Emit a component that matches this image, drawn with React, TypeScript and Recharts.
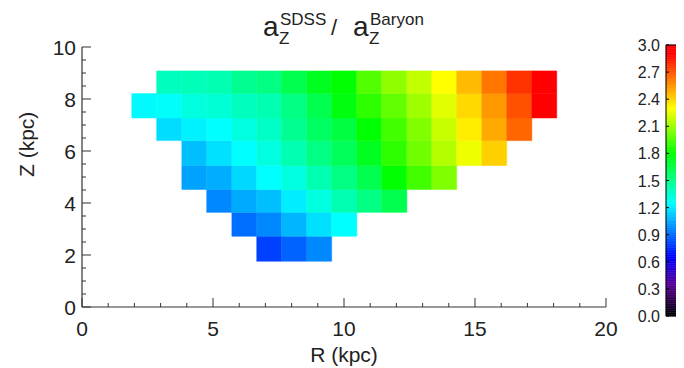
import React from 'react';
import { ComposedChart, XAxis, YAxis, ReferenceArea } from 'recharts';

// bin edges in kpc
const rEdges = [1.9, 2.85, 3.81, 4.76, 5.72, 6.67, 7.62, 8.58, 9.53, 10.49, 11.44, 12.4, 13.35, 14.3, 15.26, 16.21, 17.17, 18.12];
const zEdges = [1.76, 2.72, 3.64, 4.52, 5.44, 6.4, 7.27, 8.21, 9.08];

// first filled R bin of each Z row (bottom row first)
const rowStart = [5, 4, 3, 2, 2, 1, 0, 1];

// a_Z(SDSS) / a_Z(Baryon), one array per Z row, bottom to top
const row0 = [0.8, 0.88, 0.97];
const row1 = [0.91, 0.97, 1.08, 1.18, 1.25];
const row2 = [0.97, 1.05, 1.1, 1.21, 1.32, 1.42, 1.52, 1.63];
const row3 = [1.03, 1.06, 1.16, 1.25, 1.32, 1.42, 1.52, 1.63, 1.8, 1.93, 2.05];
const row4 = [1.1, 1.18, 1.25, 1.32, 1.42, 1.52, 1.61, 1.73, 1.89, 2.02, 2.15, 2.27, 2.41];
const row5 = [1.17, 1.22, 1.25, 1.32, 1.37, 1.49, 1.59, 1.66, 1.8, 1.93, 2.05, 2.19, 2.34, 2.5, 2.66];
const row6 = [1.24, 1.26, 1.32, 1.34, 1.39, 1.42, 1.52, 1.63, 1.77, 1.89, 1.99, 2.11, 2.24, 2.39, 2.54, 2.71, 2.92];
const row7 = [1.39, 1.4, 1.42, 1.49, 1.52, 1.63, 1.73, 1.8, 1.96, 2.08, 2.18, 2.3, 2.46, 2.62, 2.78, 2.92];
const rows = [row0, row1, row2, row3, row4, row5, row6, row7];

// axis ticks
const rTicks = [0, 1, 2, 3, 4, 5, 6, 7, 8, 9, 10, 11, 12, 13, 14, 15, 16, 17, 18, 19, 20];
const rLabels = [0, 5, 10, 15, 20];
const zTicks = [0, 0.5, 1, 1.5, 2, 2.5, 3, 3.5, 4, 4.5, 5, 5.5, 6, 6.5, 7, 7.5, 8, 8.5, 9, 9.5, 10];
const zLabels = [0, 2, 4, 6, 8, 10];
const cbarTicks = [0, 0.3, 0.6, 0.9, 1.2, 1.5, 1.8, 2.1, 2.4, 2.7, 3.0];

// colour table (rainbow)
const cmapValues = [0, 0.35, 0.65, 1.25, 1.8, 2.3, 2.9, 3.0];
const cmapColors = ['#000000', '#5a0096', '#0000ff', '#00ffff', '#00ff00', '#ffff00', '#ff0000', '#ff0000'];

const FONT = '"Liberation Sans", Arial, Helvetica, sans-serif';
const AXIS = '#333';
const TEXT = '#222';

const hex = (c: string) => [1, 3, 5].map(i => parseInt(c.slice(i, i + 2), 16));

function valueColor(v: number) {
  const vv = Math.max(0, Math.min(3, v));
  let i = 0;
  while (i < cmapValues.length - 2 && vv > cmapValues[i + 1]) i++;
  const t = (vv - cmapValues[i]) / (cmapValues[i + 1] - cmapValues[i] || 1);
  const a = hex(cmapColors[i]);
  const b = hex(cmapColors[i + 1]);
  const c = a.map((x, k) => Math.round(x + (b[k] - x) * t));
  return `rgb(${c[0]},${c[1]},${c[2]})`;
}

const cells = rows.flatMap((vals, j) =>
  vals.map((v, k) => ({
    r1: rEdges[rowStart[j] + k],
    r2: rEdges[rowStart[j] + k + 1],
    z1: zEdges[j],
    z2: zEdges[j + 1],
    value: v,
  }))
);

// colour bar drawn as thin slices of the colour table
const CBAR_STEP = 0.02;
const cbarSlices = Array.from({ length: Math.round(3 / CBAR_STEP) }, (_, i) => i * CBAR_STEP);

const BottomTick = (props: any) => {
  const { x, y, payload } = props;
  const major = rLabels.includes(payload.value);
  return (
    <g>
      <line x1={x} x2={x} y1={y} y2={y - (major ? 9 : 4)} stroke={AXIS} />
      {major && (
        <text x={x} y={y + 29} textAnchor="middle" fontSize={21} fontFamily={FONT} fill={TEXT}>
          {payload.value}
        </text>
      )}
    </g>
  );
};

const TopTick = (props: any) => {
  const { x, y, payload } = props;
  const major = rLabels.includes(payload.value);
  return <line x1={x} x2={x} y1={y} y2={y + (major ? 9 : 4)} stroke={AXIS} />;
};

const LeftTick = (props: any) => {
  const { x, y, payload } = props;
  const major = zLabels.includes(payload.value);
  return (
    <g>
      <line x1={x} x2={x + (major ? 9 : 4)} y1={y} y2={y} stroke={AXIS} />
      {major && (
        <text x={x - 6} y={y + 7.5} textAnchor="end" fontSize={21} fontFamily={FONT} fill={TEXT}>
          {payload.value}
        </text>
      )}
    </g>
  );
};

const RightTick = (props: any) => {
  const { x, y, payload } = props;
  const major = zLabels.includes(payload.value);
  return <line x1={x} x2={x - (major ? 9 : 4)} y1={y} y2={y} stroke={AXIS} />;
};

const CbarTick = (props: any) => {
  const { x, y, payload } = props;
  return (
    <g>
      <line x1={x} x2={x + 3} y1={y} y2={y} stroke="#000" />
      <text x={x - 6} y={y + 6} textAnchor="end" fontSize={16} fontFamily={FONT} fill={TEXT}>
        {Number(payload.value).toFixed(1)}
      </text>
    </g>
  );
};

export default function App() {
  return (
    <div style={{ position: 'relative', width: 684, height: 368, margin: '-8px 0 0 -8px', background: '#fff' }}>
      <div style={{ position: 'absolute', left: 0, top: 0 }}>
        <ComposedChart width={684} height={368} margin={{ top: 47, right: 78, bottom: 0, left: 0 }}>
          <XAxis
            type="number"
            dataKey="r"
            domain={[0, 20]}
            ticks={rTicks}
            interval={0}
            height={61}
            tickSize={0}
            tickMargin={0}
            tick={<BottomTick />}
            stroke={AXIS}
            strokeWidth={1.2}
            allowDataOverflow
            label={{ value: 'R (kpc)', position: 'insideBottom', offset: 6, fontSize: 21, fontFamily: FONT, fill: TEXT }}
          />
          <XAxis
            xAxisId="top"
            orientation="top"
            type="number"
            domain={[0, 20]}
            ticks={rTicks}
            interval={0}
            height={0}
            tickSize={0}
            tickMargin={0}
            tick={<TopTick />}
            stroke={AXIS}
            strokeWidth={1.2}
            allowDataOverflow
          />
          <YAxis
            type="number"
            dataKey="z"
            domain={[0, 10]}
            ticks={zTicks}
            interval={0}
            width={82}
            tickSize={0}
            tickMargin={0}
            tick={<LeftTick />}
            stroke={AXIS}
            strokeWidth={1.2}
            allowDataOverflow
            label={{ value: 'Z (kpc)', angle: -90, position: 'insideLeft', offset: 27, fontSize: 21, fontFamily: FONT, fill: TEXT }}
          />
          <YAxis
            yAxisId="right"
            orientation="right"
            type="number"
            domain={[0, 10]}
            ticks={zTicks}
            interval={0}
            width={0}
            tickSize={0}
            tickMargin={0}
            tick={<RightTick />}
            stroke={AXIS}
            strokeWidth={1.2}
            allowDataOverflow
          />
          {cells.map((c, i) => (
            <ReferenceArea
              key={i}
              x1={c.r1}
              x2={c.r2}
              y1={c.z1}
              y2={c.z2}
              fill={valueColor(c.value)}
              fillOpacity={1}
              stroke={valueColor(c.value)}
              strokeWidth={0.5}
              ifOverflow="visible"
            />
          ))}
        </ComposedChart>
      </div>
      <div style={{ position: 'absolute', left: 614, top: 0 }}>
        <ComposedChart width={70} height={368} margin={{ top: 45, right: 2, bottom: 0, left: 0 }}>
          <XAxis
            type="number"
            dataKey="x"
            domain={[0, 1]}
            ticks={[0, 1]}
            height={52}
            tick={false}
            tickLine={false}
            axisLine={false}
            allowDataOverflow
          />
          <YAxis
            type="number"
            dataKey="y"
            domain={[0, 3]}
            ticks={cbarTicks}
            interval={0}
            width={52}
            tickSize={0}
            tickMargin={0}
            axisLine={false}
            allowDataOverflow
            tick={<CbarTick />}
          />
          {cbarSlices.map((v, i) => (
            <ReferenceArea
              key={i}
              x1={0.001}
              x2={1}
              y1={v}
              y2={v + CBAR_STEP}
              fill={valueColor(v + CBAR_STEP / 2)}
              fillOpacity={1}
              stroke={valueColor(v + CBAR_STEP / 2)}
              strokeWidth={0.5}
              ifOverflow="visible"
            />
          ))}
          <ReferenceArea x1={0.001} x2={1} y1={0} y2={3} fill="none" fillOpacity={0} stroke="#000" strokeWidth={1} ifOverflow="visible" />
        </ComposedChart>
      </div>
      <svg width={684} height={60} style={{ position: 'absolute', left: 0, top: 0, pointerEvents: 'none' }}>
        <g fontFamily={FONT} fill={TEXT}>
          <text x={350} y={1} textAnchor="middle" fontSize={22}>(kpc)</text>
          <text x={263} y={36} fontSize={28}>a</text>
          <text x={279} y={44} fontSize={17}>Z</text>
          <text x={280} y={25} fontSize={17}>SDSS</text>
          <text x={331} y={35} fontSize={22}>/</text>
          <text x={353} y={36} fontSize={28}>a</text>
          <text x={369} y={44} fontSize={17}>Z</text>
          <text x={370} y={25} fontSize={17}>Baryon</text>
        </g>
      </svg>
    </div>
  );
}
